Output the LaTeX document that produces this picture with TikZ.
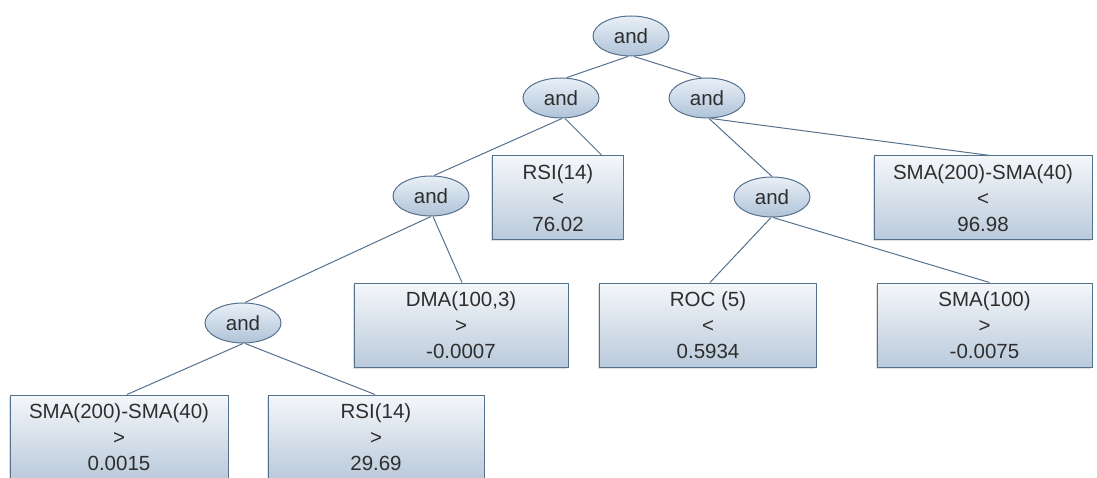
\documentclass[tikz,border=0pt]{standalone}
\usepackage{fontspec}
\setmainfont{Liberation Sans}
\usetikzlibrary{shapes.geometric,shadows}
\definecolor{edgecol}{HTML}{56718C}
\definecolor{txtcol}{HTML}{2E2E2E}
\definecolor{elltop}{HTML}{E9F0F7}
\definecolor{ellbot}{HTML}{AFC3D8}
\definecolor{boxtop}{HTML}{F4F7FA}
\definecolor{boxbot}{HTML}{BACADB}
\tikzset{
  andnode/.style={ellipse, draw=edgecol, line width=1pt, top color=elltop, bottom color=ellbot,
    minimum width=76pt, minimum height=40pt, inner sep=0pt, text=txtcol,
    font=\fontsize{20.5}{26}\selectfont},
  condbox/.style={rectangle, draw=edgecol, line width=1pt, top color=boxtop, bottom color=boxbot,
    minimum height=84pt, inner sep=0pt, text=txtcol, align=center,
    font=\fontsize{20.5}{26}\selectfont,
    drop shadow={shadow xshift=-1.5pt, shadow yshift=-1.5pt, fill=black!25, opacity=0.5}},
  link/.style={draw=edgecol, line width=1pt}
}
\begin{document}
\begin{tikzpicture}[x=1pt,y=-1pt]
\useasboundingbox (0,0) rectangle (1097,478);
% nodes
\node[andnode] (root) at (631,36) {and};
\node[andnode] (l1) at (561,98) {and};
\node[andnode] (r1) at (707,98) {and};
\node[andnode] (l2) at (431,196) {and};
\node[andnode] (r2) at (772,197) {and};
\node[andnode] (l3) at (243,323) {and};
\node[condbox, minimum width=131pt] (rsi1) at (558,198) {RSI(14)\\<\\76.02};
\node[condbox, minimum width=218pt] (smatop) at (983,198) {SMA(200)-SMA(40)\\<\\96.98};
\node[condbox, minimum width=214pt] (dma) at (461,325) {DMA(100,3)\\>\\-0.0007};
\node[condbox, minimum width=217pt] (roc) at (708,325) {ROC (5)\\<\\0.5934};
\node[condbox, minimum width=215pt] (sma100) at (984.5,325) {SMA(100)\\>\\-0.0075};
\node[condbox, minimum width=218pt] (smab) at (119,437) {SMA(200)-SMA(40)\\>\\0.0015};
\node[condbox, minimum width=216pt] (rsi2) at (376,437) {RSI(14)\\>\\29.69};
% connectors
\draw[link] ([xshift=-3pt]root.south) -- ([xshift=6pt]l1.north);
\draw[link] ([xshift=3pt]root.south) -- ([xshift=-6pt]r1.north);
\draw[link] ([xshift=1pt]l1.south) -- ([xshift=3pt]l2.north);
\draw[link] ([xshift=4pt]l1.south) -- ([xshift=44pt]rsi1.north);
\draw[link] ([xshift=2pt]r1.south) -- ([xshift=0pt]r2.north);
\draw[link] ([xshift=4pt]r1.south) -- ([xshift=7pt]smatop.north);
\draw[link] ([xshift=0pt]l2.south) -- ([xshift=2pt]l3.north);
\draw[link] ([xshift=2pt]l2.south) -- ([xshift=1pt]dma.north);
\draw[link] ([xshift=-1pt]r2.south) -- ([xshift=2pt]roc.north);
\draw[link] ([xshift=1pt]r2.south) -- ([xshift=5pt]sma100.north);
\draw[link] ([xshift=0pt]l3.south) -- ([xshift=8pt]smab.north);
\draw[link] ([xshift=2pt]l3.south) -- ([xshift=-1pt]rsi2.north);
\end{tikzpicture}
\end{document}
